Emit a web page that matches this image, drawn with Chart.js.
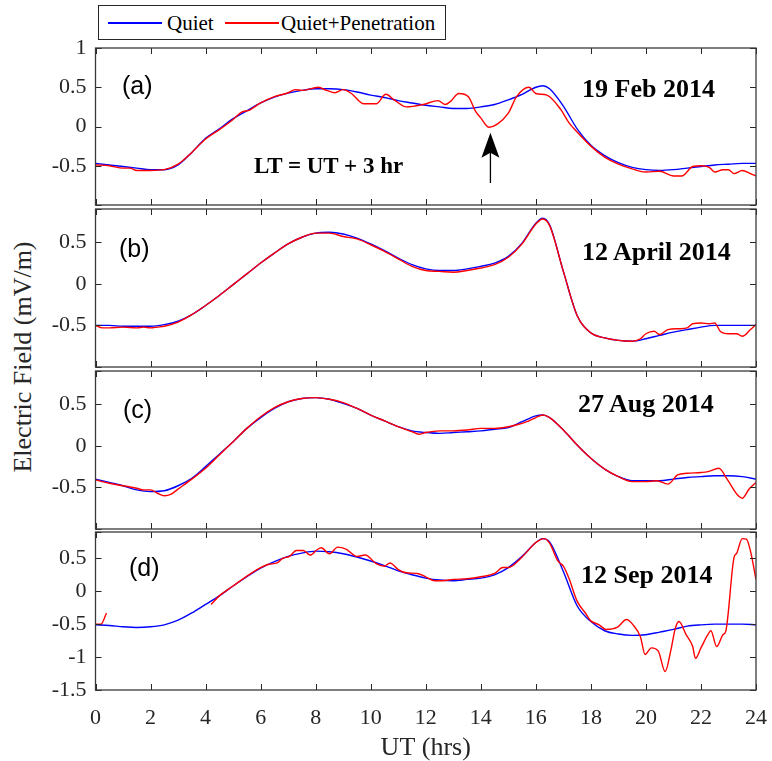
<!DOCTYPE html>
<html>
<head>
<meta charset="utf-8">
<title>Electric Field - Quiet vs Quiet+Penetration</title>
<script src="https://cdn.jsdelivr.net/npm/chart.js"></script>
<style>
  body { margin: 0; background: #fff; }
  #wrap { position: relative; width: 772px; height: 761px; overflow: hidden; font-family: "Liberation Serif", "Times New Roman", serif; color: #262626; }
  canvas { position: absolute; left: 0; }
  .txt { position: absolute; white-space: nowrap; line-height: 1; transform: translateY(-50%); }
  .tag { font-family: "Liberation Sans", Arial, sans-serif; font-size: 25px; color: #000; }
  .date { font-weight: bold; font-size: 26px; color: #000; }
  .note { font-weight: bold; font-size: 23px; color: #000; }
  #legend { position: absolute; left: 98px; top: 5px; width: 348px; height: 35px; border: 1px solid #262626; box-sizing: border-box; background: #fff; }
  #legend .ln { position: absolute; top: 16px; height: 1.5px; width: 54px; }
  #legend .lt { position: absolute; top: 17px; font-size: 21px; color: #000; line-height: 1; transform: translateY(-50%); white-space: nowrap; }
  #ylab { position: absolute; left: 23px; top: 357px; transform: translate(-50%, -50%) rotate(-90deg); font-size: 26px; white-space: nowrap; line-height: 1; }
</style>
</head>
<body>
<div id="wrap">
  <div id="legend">
    <span class="ln" style="left:9px;background:#0000ff"></span>
    <span class="lt" style="left:68px">Quiet</span>
    <span class="ln" style="left:126px;background:#ff0000"></span>
    <span class="lt" style="left:182px">Quiet+Penetration</span>
  </div>
  <div id="ylab">Electric Field (mV/m)</div>

  <canvas id="panelA" width="772" height="173" style="top:40px"></canvas>
  <canvas id="panelB" width="772" height="174" style="top:201px"></canvas>
  <canvas id="panelC" width="772" height="174" style="top:363px"></canvas>
  <canvas id="panelD" width="772" height="240" style="top:524px"></canvas>

  <div class="txt tag" style="left:122px;top:85px">(a)</div>
  <div class="txt tag" style="left:119px;top:248px">(b)</div>
  <div class="txt tag" style="left:123px;top:409px">(c)</div>
  <div class="txt tag" style="left:129px;top:567px">(d)</div>

  <div class="txt date" style="left:582px;top:89px">19 Feb 2014</div>
  <div class="txt date" style="left:582px;top:252px">12 April 2014</div>
  <div class="txt date" style="left:578px;top:404px">27 Aug 2014</div>
  <div class="txt date" style="left:581px;top:575px">12 Sep 2014</div>
  <div class="txt note" style="left:254px;top:165px">LT = UT + 3 hr</div>
</div>

<script>
// ---- data ----
const xTicks = [0, 2, 4, 6, 8, 10, 12, 14, 16, 18, 20, 22, 24];

const quietHours = [0, 0.5, 1, 1.5, 2, 2.5, 3, 3.5, 4, 4.5, 5, 5.5, 6, 6.5, 7, 7.5, 8, 8.5, 9, 9.5,
    10, 10.5, 11, 11.5, 12, 12.5, 13, 13.5, 14, 14.5, 15, 15.5, 16, 16.25, 16.5, 17, 17.5, 18, 18.5, 19,
    19.5, 20, 20.5, 21, 21.5, 22, 22.5, 23, 23.5, 24];

const quietA = [-0.47, -0.49, -0.51, -0.53, -0.55, -0.55, -0.49, -0.33, -0.15, -0.03, 0.10, 0.20, 0.30, 0.375, 0.425, 0.46, 0.48, 0.48, 0.47, 0.44,
    0.40, 0.37, 0.33, 0.30, 0.27, 0.25, 0.23, 0.23, 0.25, 0.28, 0.34, 0.41, 0.50, 0.52, 0.48, 0.26, -0.03, -0.24, -0.37, -0.46,
    -0.52, -0.55, -0.56, -0.55, -0.53, -0.51, -0.49, -0.48, -0.47, -0.47];
const quietB = [-0.50, -0.50, -0.51, -0.51, -0.51, -0.49, -0.45, -0.37, -0.26, -0.14, -0.01, 0.12, 0.25, 0.37, 0.48, 0.56, 0.61, 0.62, 0.60, 0.55,
    0.48, 0.40, 0.31, 0.23, 0.18, 0.16, 0.16, 0.18, 0.21, 0.25, 0.33, 0.49, 0.73, 0.79, 0.71, 0.15, -0.38, -0.59, -0.65, -0.68,
    -0.69, -0.66, -0.62, -0.58, -0.55, -0.52, -0.50, -0.50, -0.50, -0.50];
const quietC = [-0.40, -0.44, -0.48, -0.53, -0.55, -0.54, -0.48, -0.39, -0.25, -0.10, 0.05, 0.21, 0.34, 0.45, 0.53, 0.57, 0.58, 0.56, 0.51, 0.45,
    0.37, 0.30, 0.23, 0.18, 0.16, 0.15, 0.16, 0.17, 0.18, 0.20, 0.22, 0.29, 0.36, 0.37, 0.34, 0.19, 0.01, -0.15, -0.28, -0.37,
    -0.42, -0.42, -0.42, -0.40, -0.38, -0.37, -0.36, -0.36, -0.37, -0.40];
const quietD = [-0.51, -0.52, -0.54, -0.55, -0.54, -0.51, -0.44, -0.33, -0.20, -0.07, 0.08, 0.22, 0.35, 0.45, 0.53, 0.58, 0.61, 0.60, 0.57, 0.52,
    0.46, 0.39, 0.31, 0.25, 0.20, 0.17, 0.16, 0.18, 0.20, 0.25, 0.36, 0.53, 0.74, 0.80, 0.75, 0.30, -0.22, -0.46, -0.60, -0.65,
    -0.67, -0.66, -0.62, -0.58, -0.53, -0.51, -0.50, -0.50, -0.50, -0.51];

const penHoursA = [0, 0.5, 1, 1.25, 1.5, 2, 2.5, 3, 3.5, 4, 4.5, 5, 5.3, 5.6, 6, 6.5, 7, 7.25, 7.5, 8.1,
    8.4, 8.7, 9.0, 9.3, 9.75, 10.2, 10.55, 10.85, 11.3, 11.9, 12.45, 12.7, 12.9, 13.2, 13.55, 13.8, 14.0, 14.3, 14.6, 15.0,
    15.3, 15.75, 16.0, 16.4, 16.9, 17.2, 17.5, 18, 18.5, 19, 19.5, 20, 20.5, 21, 21.3, 21.7, 22, 22.3, 22.5, 22.8,
    23, 23.2, 23.5, 23.8, 24];
const penA = [-0.49, -0.50, -0.53, -0.53, -0.56, -0.56, -0.55, -0.48, -0.33, -0.16, -0.04, 0.09, 0.18, 0.21, 0.30, 0.38, 0.43, 0.47, 0.46, 0.50,
    0.46, 0.43, 0.47, 0.42, 0.29, 0.29, 0.41, 0.34, 0.25, 0.28, 0.33, 0.28, 0.32, 0.42, 0.38, 0.20, 0.11, -0.01, 0.03, 0.17,
    0.38, 0.50, 0.42, 0.40, 0.22, 0.05, -0.07, -0.25, -0.39, -0.48, -0.54, -0.58, -0.57, -0.63, -0.63, -0.51, -0.50, -0.52, -0.58, -0.55,
    -0.55, -0.60, -0.56, -0.60, -0.63];

const penHoursB = [0, 0.25, 0.5, 1, 1.5, 1.75, 2, 2.25, 2.5, 3, 3.5, 4, 4.5, 5, 5.5, 6, 6.5, 7, 7.5, 8,
    8.5, 9, 9.5, 10, 10.5, 11, 11.5, 12, 12.5, 13, 13.5, 14, 14.5, 15, 15.5, 16, 16.25, 16.5, 17, 17.5,
    18, 18.5, 19, 19.5, 19.8, 20, 20.3, 20.5, 20.8, 21.2, 21.5, 21.7, 22, 22.3, 22.5, 22.7, 23, 23.3, 23.5, 23.8, 24];
const penB = [-0.50, -0.53, -0.53, -0.52, -0.53, -0.52, -0.53, -0.52, -0.51, -0.46, -0.37, -0.26, -0.14, -0.01, 0.12, 0.25, 0.37, 0.48, 0.56, 0.61,
    0.61, 0.57, 0.54, 0.47, 0.39, 0.30, 0.21, 0.16, 0.15, 0.14, 0.16, 0.19, 0.23, 0.32, 0.48, 0.72, 0.78, 0.70, 0.15, -0.38,
    -0.59, -0.65, -0.68, -0.69, -0.66, -0.60, -0.57, -0.61, -0.55, -0.54, -0.53, -0.48, -0.47, -0.48, -0.47, -0.57, -0.60, -0.60, -0.63, -0.55, -0.49];

const penHoursC = [0, 0.5, 1, 1.5, 1.75, 2, 2.25, 2.5, 2.75, 3, 3.5, 4, 4.5, 5, 5.5, 6, 6.5, 7, 7.5, 8,
    8.5, 9, 9.5, 10, 10.5, 11, 11.5, 11.75, 12, 12.5, 13, 13.5, 14, 14.5, 15, 15.5, 15.75, 16, 16.25, 16.5,
    17, 17.5, 18, 18.5, 19, 19.5, 20, 20.4, 20.8, 21.15, 21.5, 22, 22.25, 22.65, 22.95, 23.3, 23.5, 23.75, 24];
const penC = [-0.41, -0.45, -0.48, -0.51, -0.53, -0.53, -0.57, -0.60, -0.58, -0.52, -0.40, -0.27, -0.11, 0.05, 0.21, 0.35, 0.46, 0.53, 0.57, 0.58,
    0.56, 0.52, 0.45, 0.37, 0.30, 0.23, 0.17, 0.14, 0.16, 0.18, 0.18, 0.19, 0.21, 0.21, 0.23, 0.27, 0.30, 0.34, 0.37, 0.34,
    0.19, 0.01, -0.15, -0.28, -0.37, -0.43, -0.43, -0.42, -0.46, -0.35, -0.33, -0.32, -0.31, -0.27, -0.40, -0.58, -0.63, -0.52, -0.44];

// null marks the gap in the penetration record
const penHoursD = [0, 0.2, 0.4, 2, 4.2, 4.5, 5, 5.5, 6, 6.3, 6.6, 6.8, 7.05, 7.3, 7.55, 7.8, 8.05, 8.2, 8.5, 8.8,
    9.1, 9.5, 9.8, 10.2, 10.5, 10.7, 11, 11.3, 11.7, 12, 12.3, 12.6, 13, 13.5, 14, 14.5, 14.8, 15, 15.5, 16,
    16.3, 16.5, 16.8, 17, 17.2, 17.5, 17.8, 18, 18.3, 18.55, 18.95, 19.3, 19.55, 19.8, 19.97, 20.2, 20.45, 20.7, 20.9, 21.07,
    21.2, 21.46, 21.7, 21.8, 22.0, 22.25, 22.36, 22.57, 22.8, 22.9, 23.2, 23.3, 23.5, 23.65, 23.8, 24];
const penD = [-0.50, -0.50, -0.33, null, -0.20, -0.07, 0.08, 0.23, 0.36, 0.41, 0.43, 0.50, 0.53, 0.62, 0.62, 0.55, 0.63, 0.66, 0.57, 0.67,
    0.64, 0.53, 0.55, 0.42, 0.38, 0.43, 0.33, 0.28, 0.27, 0.22, 0.16, 0.16, 0.18, 0.19, 0.22, 0.27, 0.36, 0.36, 0.52, 0.74,
    0.80, 0.73, 0.46, 0.38, 0.20, -0.15, -0.33, -0.45, -0.51, -0.58, -0.55, -0.43, -0.52, -0.69, -0.96, -0.86, -0.91, -1.22, -0.91, -0.56,
    -0.46, -0.66, -0.84, -1.02, -0.86, -0.66, -0.60, -0.84, -0.66, -0.61, 0.51, 0.58, 0.80, 0.79, 0.61, 0.18];

// y ranges and labelled ticks per panel
const yRangeA = [-1, 1],   yLabelsA = [-0.5, 0, 0.5, 1];
const yRangeB = [-1, 0.9], yLabelsB = [-0.5, 0, 0.5];
const yRangeC = [-1, 0.9], yLabelsC = [-0.5, 0, 0.5];
const yRangeD = [-1.5, 0.9], yLabelsD = [-1.5, -1, -0.5, 0, 0.5];

// arrow in panel (a): hour, tail value, tip value
const arrowA = { x: 14.35, from: -0.72, to: -0.08 };

// ---- drawing ----
const SERIF = '"Liberation Serif", "Times New Roman", serif';
const AXIS = '#262626';
const PAD = 8;

const frameTicks = {
    id: 'frameTicks',
    afterDatasetsDraw(chart, args, opts) {
        const { ctx, chartArea: a } = chart;
        const x = chart.scales.x, y = chart.scales.y;
        const L = 6;
        ctx.save();
        ctx.strokeStyle = AXIS;
        ctx.lineWidth = 1;
        ctx.beginPath();
        xTicks.forEach(v => {
            const px = Math.round(x.getPixelForValue(v)) + 0.5;
            ctx.moveTo(px, a.bottom); ctx.lineTo(px, a.bottom - L);
            ctx.moveTo(px, a.top); ctx.lineTo(px, a.top + L);
        });
        opts.marks.forEach(v => {
            const py = Math.round(y.getPixelForValue(v)) + 0.5;
            ctx.moveTo(a.left, py); ctx.lineTo(a.left + L, py);
            ctx.moveTo(a.right, py); ctx.lineTo(a.right - L, py);
        });
        ctx.stroke();
        ctx.lineWidth = 1.3;
        ctx.strokeStyle = '#3a3a3a';
        ctx.strokeRect(a.left, a.top, a.right - a.left, a.bottom - a.top);

        if (opts.arrow) {
            const ax = x.getPixelForValue(opts.arrow.x);
            const y0 = y.getPixelForValue(opts.arrow.from);
            const y1 = y.getPixelForValue(opts.arrow.to);
            ctx.strokeStyle = '#000';
            ctx.fillStyle = '#000';
            ctx.lineWidth = 1.3;
            ctx.beginPath();
            ctx.moveTo(ax, y0); ctx.lineTo(ax, y1 + 18);
            ctx.stroke();
            // notched arrow head
            ctx.beginPath();
            ctx.moveTo(ax, y1);
            ctx.lineTo(ax + 9, y1 + 25);
            ctx.lineTo(ax, y1 + 20);
            ctx.lineTo(ax - 9, y1 + 25);
            ctx.closePath();
            ctx.fill();
        }
        ctx.restore();
    }
};

function pts(hours, vals) {
    return hours.map((h, i) => ({ x: h, y: vals[i] }));
}

function makePanel(id, quiet, penHours, pen, range, labels, bottom, arrow) {
    const tickFont = { family: SERIF, size: 22 };
    const canvas = document.getElementById(id);
    const plotH = bottom ? 158 : canvas.height - 2 * PAD;
    new Chart(canvas, {
        type: 'line',
        data: {
            datasets: [
                { label: 'Quiet+Penetration', data: pts(penHours, pen), borderColor: '#ff0000' },
                { label: 'Quiet', data: pts(quietHours, quiet), borderColor: '#0000ff' }
            ]
        },
        options: {
            responsive: false,
            animation: false,
            devicePixelRatio: 1,
            layout: { padding: { top: PAD, bottom: bottom ? 0 : PAD, left: 0, right: 16 } },
            elements: {
                point: { radius: 0 },
                line: { borderWidth: 1.4, cubicInterpolationMode: 'monotone', fill: false }
            },
            plugins: {
                legend: { display: false },
                tooltip: { enabled: false },
                frameTicks: { marks: labels.concat(range), arrow: arrow }
            },
            scales: {
                x: {
                    type: 'linear', min: 0, max: 24,
                    afterBuildTicks: s => { s.ticks = xTicks.map(v => ({ value: v })); },
                    afterFit: s => {
                        s.height = bottom ? canvas.height - PAD - plotH : 0;
                        s.paddingLeft = 0; s.paddingRight = 0;
                    },
                    grid: { display: false, drawTicks: false },
                    border: { display: false },
                    ticks: { display: bottom, font: tickFont, color: AXIS, padding: 15, maxRotation: 0, autoSkip: false },
                    title: { display: bottom, text: 'UT (hrs)', font: { family: SERIF, size: 26 }, color: AXIS, padding: { top: 0, bottom: 0 } }
                },
                y: {
                    min: range[0], max: range[1],
                    afterBuildTicks: s => { s.ticks = labels.map(v => ({ value: v })); },
                    afterFit: s => { s.width = 95.5; s.paddingTop = 0; s.paddingBottom = 0; },
                    grid: { display: false, drawTicks: false },
                    border: { display: false },
                    ticks: { font: tickFont, color: AXIS, padding: 9, callback: v => String(v) }
                }
            }
        },
        plugins: [frameTicks]
    });
}

makePanel('panelA', quietA, penHoursA, penA, yRangeA, yLabelsA, false, arrowA);
makePanel('panelB', quietB, penHoursB, penB, yRangeB, yLabelsB, false, null);
makePanel('panelC', quietC, penHoursC, penC, yRangeC, yLabelsC, false, null);
makePanel('panelD', quietD, penHoursD, penD, yRangeD, yLabelsD, true, null);
</script>
</body>
</html>
